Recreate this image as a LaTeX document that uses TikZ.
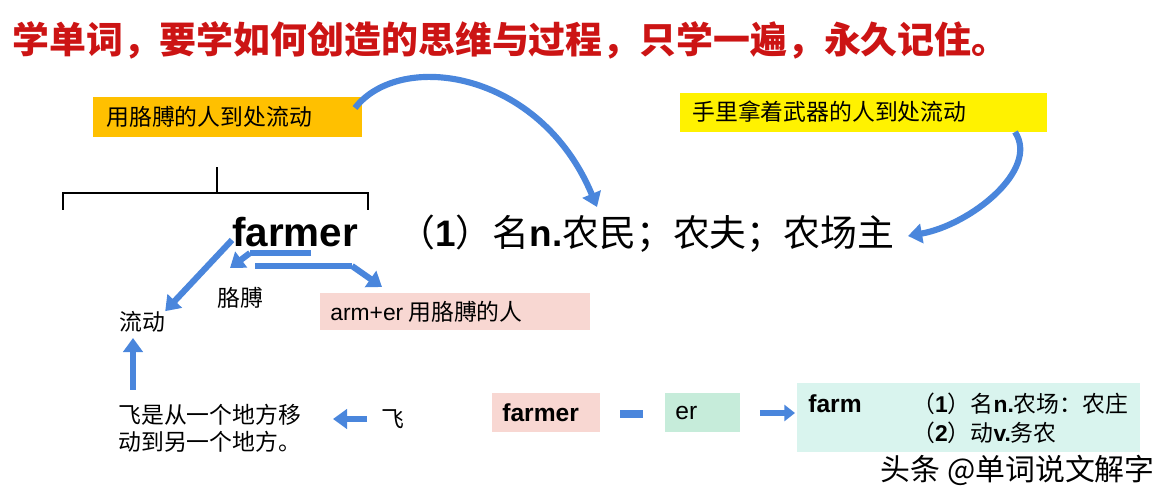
\documentclass[tikz,border=0pt]{standalone}
\usepackage{fontspec}
\setmainfont{Noto Sans CJK SC}
\newfontfamily\lat{Liberation Sans}
\usetikzlibrary{arrows.meta}
\definecolor{tred}{RGB}{204,20,20}
\definecolor{bl}{RGB}{74,134,220}
\definecolor{orng}{RGB}{255,192,0}
\definecolor{pnk}{RGB}{248,215,210}
\definecolor{grn}{RGB}{198,236,218}
\definecolor{lgrn}{RGB}{217,244,238}
\tikzset{
 barr/.style={draw=bl,line width=3.5pt,-{Triangle[length=8pt,width=11pt]}},
 txt/.style={inner sep=0pt,font=\fontsize{13pt}{15pt}\selectfont},
}
\begin{document}
\begin{tikzpicture}[x=0.02cm,y=-0.02cm]
\useasboundingbox (0,0) rectangle (1168,502);
\node[anchor=west,inner sep=0pt,text=tred,font=\fontsize{21pt}{23pt}\selectfont\bfseries] (title) at (12,40) {学单词，要学如何创造的思维与过程，只学一遍，永久记住。};
\fill[orng] (93,97) rectangle (362,137);
\node[txt,anchor=west] (ob) at (106,117) {用胳膊的人到处流动};
\coordinate (obr) at (355,108);
\fill[yellow] (680,93) rectangle (1047,132);
\node[txt,anchor=west] (yb) at (692,112) {手里拿着武器的人到处流动};
\coordinate (ybr) at (1015,132);
\draw[line width=0.8pt] (63,210) -- (63,193) -- (368,193) -- (368,210) (217,193) -- (217,167);
\node[inner sep=0pt,font=\lat\fontsize{23pt}{25pt}\selectfont\bfseries] (farmer) at (295,232) {farmer};
\node[inner sep=0pt,anchor=west,font=\fontsize{21pt}{24pt}\selectfont] (def) at (398,234) {（\textbf{\lat 1}）名\textbf{\lat n.}农民；农夫；农场主};
\coordinate (defa) at (597,207);
\coordinate (defb) at (908,236);
\draw[barr] (obr) .. controls (400,50) and (540,70) .. (defa);
\draw[barr] (ybr) .. controls (1040,170) and (970,225) .. (defb);
\node[txt] (gb) at (240,298) {胳膊};
\node[txt] (ld) at (142,322) {流动};
\fill[pnk] (320,293) rectangle (590,330);
\node[txt,anchor=west] (arm) at (330,312) {{\lat arm+er} 用胳膊的人};
\coordinate (armt) at (382,287);
\draw[barr] (232,240) -- (ld.north east);
\draw[draw=bl,line width=3.5pt] (311,253) -- (250,253);
\draw[barr] (250,253) -- (230,268);
\draw[draw=bl,line width=3.5pt] (255,266) -- (352,266);
\draw[barr] (352,266) -- (armt);
\node[txt,anchor=north west,align=left] (fei1) at (118,404) {飞是从一个地方移\\动到另一个地方。};
\coordinate (ldb) at (133,338);
\draw[barr] (133,390) -- (ldb);
\node[txt] (fei) at (393,419) {飞};
\coordinate (feit) at (333,419);
\draw[barr] (367,419) -- (feit);
\fill[pnk] (492,393) rectangle (600,432);
\node[txt,anchor=west,font=\lat\fontsize{14pt}{16pt}\selectfont\bfseries] (fm) at (502,413) {farmer};
\fill[bl] (620,410) rectangle (643,418);
\fill[grn] (665,393) rectangle (740,432);
\node[txt,anchor=west,font=\lat\fontsize{14pt}{16pt}\selectfont] (er) at (675,413) {er};
\fill[lgrn] (797,383) rectangle (1140,452);
\coordinate (bxl) at (795,413);
\draw[draw=bl,line width=3.5pt,-{Triangle[length=6pt,width=9pt]}] (760,413) -- (bxl);
\node[txt,anchor=west,font=\lat\fontsize{14pt}{16pt}\selectfont\bfseries] (farm) at (808,404) {farm};
\node[txt,anchor=west] (d1) at (912,404) {（\textbf{\lat 1}）名\textbf{\lat n.}农场：农庄};
\node[txt,anchor=west] (d2) at (912,433) {（\textbf{\lat 2}）动\textbf{\lat v.}务农};
\node[txt,anchor=east,font=\fontsize{17pt}{19pt}\selectfont] (wm) at (1155,470) {头条 @单词说文解字};
\end{tikzpicture}
\end{document}
